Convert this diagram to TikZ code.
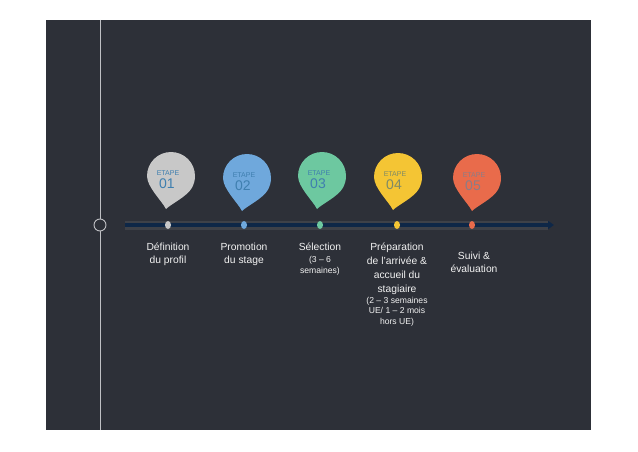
\documentclass[tikz,border=0pt]{standalone}
\usepackage{fontspec}
\setmainfont{Liberation Sans}
\usetikzlibrary{arrows.meta,shapes.geometric}
\definecolor{bgdark}{HTML}{2D3038}
\definecolor{vline}{HTML}{BFC0C4}
\definecolor{navy}{HTML}{0E2747}
\definecolor{pinA}{HTML}{C8C8C8}
\definecolor{pinB}{HTML}{6FA8DC}
\definecolor{pinC}{HTML}{6DC8A0}
\definecolor{pinD}{HTML}{F4C534}
\definecolor{pinE}{HTML}{E96B4B}
\definecolor{txtA}{HTML}{3F7FAF}
\definecolor{txtD}{HTML}{7E8A66}
\definecolor{txtE}{HTML}{8A7D88}
\definecolor{lbl}{HTML}{F2F2F2}
\tikzset{
  pinshape/.style={fill=#1, draw=none},
  etape/.style={text=#1, font=\fontsize{7}{8}\selectfont, inner sep=0pt, anchor=base},
  stepnum/.style={text=#1, font=\fontsize{14}{15}\selectfont, inner sep=0pt, anchor=base},
  marker/.style={fill=#1, draw=none, ellipse, minimum width=6pt, minimum height=8pt, inner sep=0pt},
  lblbig/.style={text=lbl, font=\fontsize{10.3}{13.5}\selectfont, align=center, inner sep=0pt, anchor=base},
  lblsmall/.style={text=lbl, font=\fontsize{8.6}{10.5}\selectfont, align=center, inner sep=0pt, anchor=base},
}
\newcommand{\droppin}[5]{% x, y(tip,y-up), fill, text colour, number
  \fill[#3] (#1,#2) .. controls +(-4,8) and +(0,-11) .. ++(-19,33)
     arc[start angle=180, end angle=-30, radius=24]
     .. controls +(-5,-8.7) and +(5,5) .. (#1,#2);
  \node[etape=#4] (etape#5) at (#1+2,#2+34) {ETAPE};
  \node[stepnum=#4] (num#5) at (#1+1,#2+21) {#5};
}
\begin{document}
\begin{tikzpicture}[x=1pt,y=1pt]
\useasboundingbox (0,0) rectangle (638,451);
\fill[white] (0,0) rectangle (638,451);
\fill[bgdark] (46,21) rectangle (591,431);
% vertical line with circle
\coordinate (vtop) at (100,431);
\coordinate (vbot) at (100,21);
\draw[vline, line width=0.9pt] (vtop) -- (vbot);
\node[circle, draw=vline, fill=bgdark, line width=0.9pt, minimum size=12pt, inner sep=0pt] (ring) at (100,226) {};
% timeline
\coordinate (tstart) at (125,226);
\coordinate (tend) at (554,226);
\draw[color=white!8!bgdark, line width=9pt] (tstart) -- (548,226);
\draw[navy, line width=4pt, -{Triangle[length=6pt,width=8pt]}] (tstart) -- (tend);
% markers
\node[marker=pinA] (m1) at (168,226) {};
\node[marker=pinB] (m2) at (244,226) {};
\node[marker=pinC] (m3) at (320,226) {};
\node[marker=pinD] (m4) at (397,226) {};
\node[marker=pinE] (m5) at (472,226) {};
% pins
\droppin{166}{242}{pinA}{txtA}{01}
\droppin{242}{240}{pinB}{txtA}{02}
\droppin{317}{242}{pinC}{txtA}{03}
\droppin{393}{241}{pinD}{txtD}{04}
\droppin{472}{240}{pinE}{txtE}{05}
% labels (base anchor = baseline of last line)
\node[lblbig] (l1) at (168,187.5) {Définition\\du profil};
\node[lblbig] (l2) at (244,187.5) {Promotion\\du stage};
\node[lblbig] (l3) at (320,201) {Sélection};
\node[lblsmall] (l3s) at (320,178) {(3 – 6\\semaines)};
\node[lblbig, font=\fontsize{10.3}{14}\selectfont] (l4) at (397,159) {Préparation\\de l’arrivée \&\\accueil du\\stagiaire};
\node[lblsmall, font=\fontsize{8.6}{10.3}\selectfont] (l4s) at (397,127) {(2 – 3 semaines\\UE/ 1 – 2 mois\\hors UE)};
\node[lblbig, font=\fontsize{10.3}{12.5}\selectfont] (l5) at (474,179) {Suivi \&\\évaluation};
\end{tikzpicture}
\end{document}
